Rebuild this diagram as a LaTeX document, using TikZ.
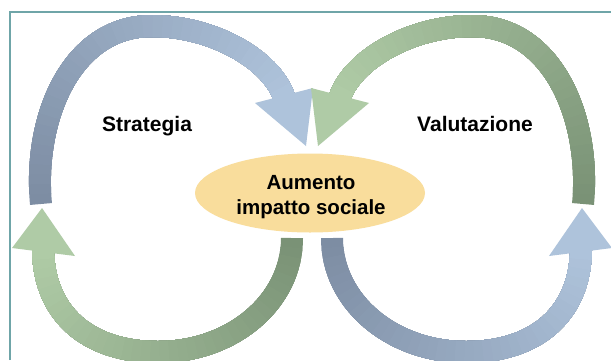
\documentclass[tikz,border=0pt]{standalone}
\usepackage{fontspec}
\setmainfont{Liberation Sans}
\usetikzlibrary{decorations.markings,shapes.geometric}
\definecolor{bluedark}{HTML}{7D8DA3}
\definecolor{bluelight}{HTML}{AEC3DB}
\definecolor{greendark}{HTML}{7A9276}
\definecolor{greenlight}{HTML}{AFCBA6}
\definecolor{framec}{HTML}{6FA5A8}
\definecolor{corefill}{HTML}{F9DD9C}
\newcommand\TLpath{(41,204) .. controls (33,120) and (70,26) .. (152,26) .. controls (212,26) and (271,59) .. (284,97)}
\newcommand\TLhead{(255,103) -- (306,146) -- (313,88) -- cycle}
\newcommand\BLpath{(292,238) .. controls (292,302) and (232,352) .. (158,352) .. controls (88,352) and (44,314) .. (43,250)}
\newcommand\BLhead{(12,248) -- (42,208) -- (75,256) -- cycle}
\newcommand\gradarrow[4]{%
  \path[decorate, decoration={markings, mark=at position 0.5 with {\pgfmathsetmacro\tmpl{\pgfdecoratedpathlength}\xdef\plen{\tmpl}}}] #1;
  \foreach \i in {0,...,39}{%
    \pgfmathsetmacro\off{\i*\plen/40+0.01}%
    \pgfmathtruncatemacro\pc{100*\i/39}%
    \colorlet{segc}{#3!\pc!#2}%
    \draw[segc, line width=22pt, dash pattern=on 0pt off \off pt on 5000pt] #1;
  }
  \fill[#3] #4;
}
\tikzset{
  lbl/.style={font=\bfseries\fontsize{21}{25}\selectfont, text=black, inner sep=0pt, anchor=base},
  corelbl/.style={font=\bfseries\fontsize{20.5}{25}\selectfont, text=black, inner sep=0pt, anchor=base},
  core/.style={ellipse, fill=corefill, minimum width=230pt, minimum height=79pt, inner sep=0pt},
  frameline/.style={draw=framec, line width=2pt}
}
\begin{document}
\begin{tikzpicture}[x=1pt,y=-1pt]
\useasboundingbox[fill=white] (0,0) rectangle (611,360);
\draw[frameline] (10,360) -- (10,12) -- (611,12);
% left loop
\gradarrow{\TLpath}{bluedark}{bluelight}{\TLhead}
\gradarrow{\BLpath}{greendark}{greenlight}{\BLhead}
% right loop (mirror)
\begin{scope}[xshift=624pt, xscale=-1]
\gradarrow{\TLpath}{greendark}{greenlight}{\TLhead}
\gradarrow{\BLpath}{bluedark}{bluelight}{\BLhead}
\end{scope}
\node[core] (core) at (310,193) {};
\node[corelbl] (t1) at (311,189) {Aumento};
\node[corelbl] (t2) at (311,214) {impatto sociale};
\node[lbl] (strat) at (147,131) {Strategia};
\node[lbl] (valut) at (475,131) {Valutazione};
\end{tikzpicture}
\end{document}
